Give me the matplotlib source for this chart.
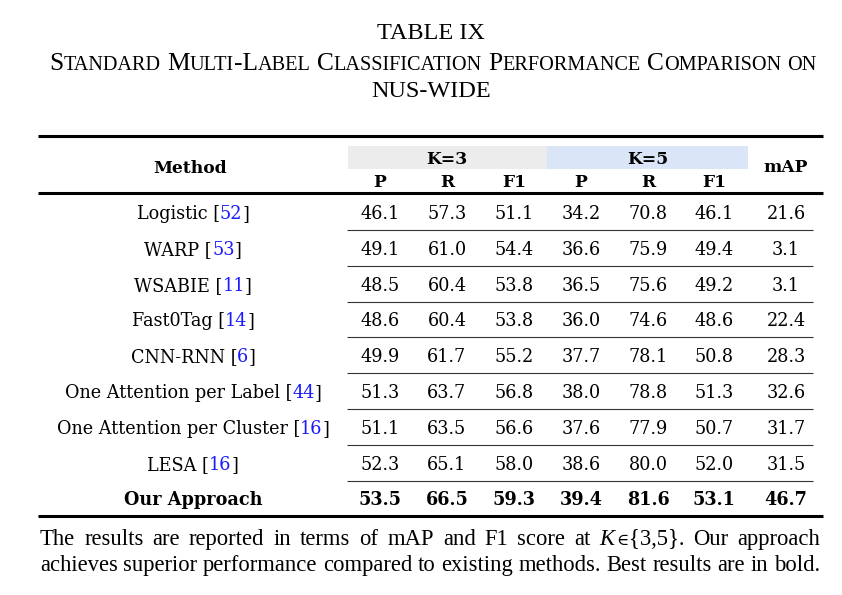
import matplotlib
matplotlib.use("Agg")
import matplotlib.pyplot as plt

# table content
methods = ["Logistic", "WARP", "WSABIE", "Fast0Tag", "CNN-RNN",
           "One Attention per Label", "One Attention per Cluster", "LESA",
           "Our Approach"]
refs = ["52", "53", "11", "14", "6", "44", "16", "16", None]
k3_p = [46.1, 49.1, 48.5, 48.6, 49.9, 51.3, 51.1, 52.3, 53.5]
k3_r = [57.3, 61.0, 60.4, 60.4, 61.7, 63.7, 63.5, 65.1, 66.5]
k3_f1 = [51.1, 54.4, 53.8, 53.8, 55.2, 56.8, 56.6, 58.0, 59.3]
k5_p = [34.2, 36.6, 36.5, 36.0, 37.7, 38.0, 37.6, 38.6, 39.4]
k5_r = [70.8, 75.9, 75.6, 74.6, 78.1, 78.8, 77.9, 80.0, 81.6]
k5_f1 = [46.1, 49.4, 49.2, 48.6, 50.8, 51.3, 50.7, 52.0, 53.1]
mAP = [21.6, 3.1, 3.1, 22.4, 28.3, 32.6, 31.7, 31.5, 46.7]
sub_headers = ["P", "R", "F1", "P", "R", "F1"]

title = "TABLE IX"
caption = "Standard Multi-Label Classification Performance Comparison on"
caption2 = "NUS-WIDE"
note_line1 = "The results are reported in terms of mAP and F1 score at"
note_line1b = "Our approach"
note_line2 = "achieves superior performance compared to existing methods. Best results are in bold."

SERIF = ["Liberation Serif", "DejaVu Serif"]
BODY = ["DejaVu Serif"]
BLUE = "#1a1aff"

fig = plt.figure(figsize=(8.42, 5.95), dpi=100)
ax = fig.add_axes([0, 0, 1, 1])
ax.set_xlim(0, 842)
ax.set_ylim(595, 0)
ax.axis("off")
renderer = fig.canvas.get_renderer()


def width(s, **kw):
    t = ax.text(0, 0, s, **kw)
    w = t.get_window_extent(renderer).width
    t.remove()
    return w


def advance(s, **kw):
    # ink extents drop side bearings, so measure against a reference glyph
    return width(s + "I", **kw) - width("I", **kw)


def draw_runs(runs, x, y, ha="center"):
    # runs with different fonts
    ws = [advance(s, **kw) for s, kw in runs]
    total = sum(ws)
    start = x - total / 2 if ha == "center" else x
    for (s, kw), w in zip(runs, ws):
        ax.text(start, y, s, ha="left", va="baseline", **kw)
        start += w
    return total


def draw_colored(parts, x, y, **kw):
    # same font, only colour changes: right-align each part on the
    # ink edge of the growing prefix
    full = "".join(p for p, _ in parts)
    start = x - width(full, **kw) / 2
    prefix = ""
    for p, c in parts:
        prefix += p
        ax.text(start + width(prefix, **kw), y, p, ha="right", va="baseline",
                color=c, **kw)


# ---- title block ----
ax.text(431, 39, title, ha="center", va="baseline", family=SERIF, fontsize=17.5)

big = dict(family=SERIF, fontsize=18.3)
small = dict(family=SERIF, fontsize=14.6)
space_w = advance(" ", **big)
words = []
for word in caption.split(" "):
    runs = []
    for ch in word:
        kw = small if ch.islower() else big
        if runs and runs[-1][1] is kw:
            runs[-1] = (runs[-1][0] + ch.upper(), kw)
        else:
            runs.append((ch.upper(), kw))
    words.append(runs)
word_ws = [sum(advance(s, **kw) for s, kw in r) for r in words]
total = sum(word_ws) + space_w * (len(words) - 1)
x = 433 - total / 2
for r, w in zip(words, word_ws):
    draw_runs(r, x, 70, ha="left")
    x += w + space_w
ax.text(431, 97, caption2, ha="center", va="baseline", family=SERIF, fontsize=17.5)

# ---- table geometry ----
x_left, x_right = 38, 823
col_x = [380, 447, 514, 581, 648, 714, 786]
method_x = 193
row_y0, row_step = 219, 35.8

for yr in (136, 193, 516):
    ax.plot([x_left, x_right], [yr, yr], color="black", lw=2.2, solid_capstyle="butt")

ax.add_patch(plt.Rectangle((348, 146), 199, 23, color="#ececec", lw=0))
ax.add_patch(plt.Rectangle((547, 146), 201, 23, color="#dae6f8", lw=0))

hdr = dict(family=BODY, fontsize=12.3, fontweight="bold")
ax.text(method_x - 3, 173, "Method", ha="center", va="baseline", **hdr)
ax.text(447, 164, "K=3", ha="center", va="baseline", **hdr)
ax.text(648, 164, "K=5", ha="center", va="baseline", **hdr)
ax.text(col_x[6], 172, "mAP", ha="center", va="baseline", **hdr)
for cx, h in zip(col_x[:6], sub_headers):
    ax.text(cx, 187, h, ha="center", va="baseline", **hdr)

cols = [k3_p, k3_r, k3_f1, k5_p, k5_r, k5_f1, mAP]
n = len(methods)
for i in range(n):
    y = row_y0 + i * row_step
    last = refs[i] is None
    kw = dict(family=BODY, fontsize=12.7, fontweight="bold" if last else "normal")
    if last:
        ax.text(method_x, y, methods[i], ha="center", va="baseline", **kw)
    else:
        draw_colored([(methods[i] + " [", "black"), (refs[i], BLUE), ("]", "black")],
                     method_x, y, **kw)
    for cx, col in zip(col_x, cols):
        ax.text(cx, y, f"{col[i]:.1f}", ha="center", va="baseline", **kw)
    if i < n - 1:
        ys = y + 11
        ax.plot([347, 813], [ys, ys], color="#333333", lw=0.8, solid_capstyle="butt")

# ---- footnote, justified ----
note = dict(family=SERIF, fontsize=16.3)
note_it = dict(family=SERIF, fontsize=16.3, style="italic")


def justify(tokens, y, x0=40, x1=820):
    ws = [sum(advance(s, **kw) for s, kw in t) for t in tokens]
    gap = (x1 - x0 - sum(ws)) / (len(tokens) - 1)
    x = x0
    for t, w in zip(tokens, ws):
        draw_runs(t, x, y, ha="left")
        x += w + gap


tok1 = [[(w, note)] for w in note_line1.split()]
tok1.append([("K", note_it), (" ", dict(family=["DejaVu Serif"], fontsize=4)),
             ("\u2208", dict(family=["DejaVu Serif"], fontsize=12)), ("{3,5}.", note)])
tok1 += [[(w, note)] for w in note_line1b.split()]
justify(tok1, 545)
justify([[(w, note)] for w in note_line2.split()], 571)

fig.savefig("out.png", dpi=100)
